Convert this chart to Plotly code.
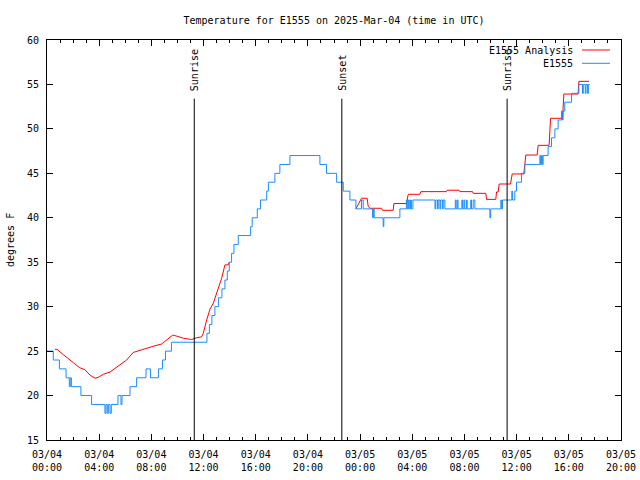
import plotly.graph_objects as go
import pandas as pd

BASE = pd.Timestamp("2025-03-04 00:00")

# Observed temperature (E1555): change points (hours after 03/04 00:00 UTC, deg F), drawn as steps
obs_hours = [0.0, 0.48, 0.95, 1.46, 1.71, 1.78, 1.87, 2.6, 3.42, 4.44, 4.52, 4.62, 4.70, 4.83, 4.93,
             5.44, 5.67, 5.75, 6.36, 6.87, 7.59, 7.93, 8.54, 8.85, 9.08, 9.54, 12.26, 12.45, 12.64,
             12.87, 13.14, 13.41, 13.64, 13.82, 13.97, 14.15, 14.33, 14.66, 15.61, 15.73, 16.12,
             16.37, 16.84, 16.97, 17.47, 17.85, 18.62, 20.92, 21.43, 22.2, 22.71, 23.22, 23.68,
             24.11, 24.24, 24.96, 25.02, 25.08, 25.77, 25.82, 27.05, 27.55, 27.62, 27.70, 27.77,
             27.86, 27.93, 28.05, 29.74, 29.8, 29.93, 29.99, 30.12, 30.18, 30.31, 30.37, 30.5,
             31.3, 31.36, 31.45, 31.51, 31.8, 31.86, 31.96, 32.02, 32.15, 32.21, 32.48, 32.54,
             32.67, 32.8, 33.95, 34.01, 34.79, 34.85,
             34.92, 35.63, 35.69, 35.86, 35.99, 36.37, 36.63, 37.78, 37.84, 37.91, 37.97, 38.03,
             38.41, 38.67, 38.93, 39.18, 39.44, 39.50, 39.56, 39.69, 40.21, 40.77, 41.05, 41.11,
             41.26, 41.32, 41.44, 41.5, 41.61]
obs_temps = [25, 24, 23, 22, 21, 22, 21, 20, 19, 18, 19, 18, 19, 18, 19,
             20, 19, 20, 21, 22, 23, 22, 23, 24, 25, 26, 27, 28, 29,
             30, 31, 32, 33, 34, 35, 36, 37, 38, 39, 40, 41,
             42, 43, 44, 45, 46, 47, 46, 45, 44, 43, 42, 41,
             42, 41, 40, 41, 40, 39, 40, 41, 42, 41, 42, 41,
             42, 41, 42, 41, 42, 41, 42, 41, 42, 41, 42, 41,
             42, 41, 42, 41, 42, 41, 42, 41, 42, 41, 42, 41,
             42, 41, 40, 41, 42, 41,
             42, 43, 42, 43, 44, 45, 46, 47, 46, 47, 46, 47,
             48, 49, 50, 51, 52, 51, 52, 53, 54, 55, 54, 55,
             54, 55, 54, 55, 55]

# Analysis (E1555 Analysis), early part (coincides with observations between the two parts)
ana_early_hours = [0.61, 0.77, 1.25, 1.63, 2.02, 2.48, 2.91, 3.3, 3.68, 3.93, 4.32, 4.83, 5.21,
                   5.72, 6.1, 6.61, 7.13, 7.64, 8.15, 8.79, 9.17, 9.63, 9.91, 10.45, 11.09,
                   11.47, 11.85, 11.98, 12.24, 12.49, 12.75, 13.0, 13.26, 13.39, 13.64, 13.89,
                   13.97]
ana_early_temps = [25.2, 25.2, 24.6, 24.1, 23.7, 23.15, 22.9, 22.3, 21.95, 22.05, 22.4, 22.65, 23.05,
                   23.5, 24.0, 24.85, 25.1, 25.35, 25.55, 25.8, 26.25, 26.8, 26.7, 26.45, 26.3,
                   26.5, 26.6, 27.0, 28.5, 29.7, 30.4, 31.5, 32.6, 33.2, 34.7, 34.7,
                   35.0]
# Analysis, late part
ana_late_hours = [23.68, 24.11, 24.54, 24.62, 24.75, 25.65, 25.71, 26.54, 26.59, 27.56, 27.69, 28.58,
                  28.66, 30.63, 30.67, 31.59, 31.65, 32.62, 32.67, 33.64, 33.69, 34.4, 34.46,
                  34.58, 34.66, 35.53, 35.66, 36.55, 36.63, 36.7, 37.57, 37.65, 38.49, 38.6,
                  39.52, 39.62, 40.71, 40.77, 41.56]
ana_late_temps = [41.0, 42.2, 42.2, 41.3, 41.07, 41.07, 40.84, 40.84, 41.6, 41.6, 42.64, 42.64,
                  42.94, 42.94, 43.1, 43.1, 42.94, 42.94, 42.75, 42.75, 42.07, 42.07, 42.9,
                  42.9, 43.8, 43.8, 44.93, 44.93, 46.0, 47.06, 47.06, 48.15, 48.15, 51.19,
                  51.19, 53.92, 53.92, 55.35, 55.35]

event_hours = [11.29, 22.6, 35.27]
event_labels = ["Sunrise", "Sunset", "Sunrise"]

tick_hours = [0, 4, 8, 12, 16, 20, 24, 28, 32, 36, 40, 44]
tick_labels = ["03/04<br>00:00", "03/04<br>04:00", "03/04<br>08:00", "03/04<br>12:00",
               "03/04<br>16:00", "03/04<br>20:00", "03/05<br>00:00", "03/05<br>04:00",
               "03/05<br>08:00", "03/05<br>12:00", "03/05<br>16:00", "03/05<br>20:00"]

series_names = ["E1555 Analysis", "E1555"]
series_colors = ["#ff0000", "#1a8cff"]


def t(h):
    return BASE + pd.Timedelta(hours=h)


ana_x = [t(h) for h in ana_early_hours] + [None] + [t(h) for h in ana_late_hours]
ana_y = ana_early_temps + [None] + ana_late_temps

FONT = "DejaVu Sans Mono"
fig = go.Figure()
fig.add_trace(go.Scatter(x=ana_x, y=ana_y, mode="lines", connectgaps=False,
                         line=dict(color=series_colors[0], width=1), name=series_names[0],
                         showlegend=False))
fig.add_trace(go.Scatter(x=[t(h) for h in obs_hours], y=obs_temps, mode="lines",
                         line=dict(color=series_colors[1], width=1, shape="hv"),
                         name=series_names[1], showlegend=False))

for h, lab in zip(event_hours, event_labels):
    fig.add_shape(type="line", xref="x", yref="y", x0=t(h), x1=t(h), y0=15, y1=53.4,
                  line=dict(color="black", width=1))
    fig.add_annotation(x=t(h), y=54.05, xref="x", yref="y", text=lab, textangle=-90,
                       showarrow=False, xanchor="center", yanchor="bottom", xshift=1,
                       font=dict(family=FONT, size=10, color="black"))

# manual legend (text then line sample, gnuplot style)
W = 574.0
for i, (nm, col) in enumerate(zip(series_names, series_colors)):
    ypx = 50 + 13.3 * i
    yp = (440 - ypx) / 400.0
    fig.add_annotation(x=(575 - 47) / W, y=yp, xref="paper", yref="paper", text=nm,
                       showarrow=False, xanchor="right", yanchor="middle",
                       font=dict(family=FONT, size=10, color="black"))
    fig.add_shape(type="line", xref="paper", yref="paper", x0=(582 - 47) / W, x1=(610 - 47) / W,
                  y0=yp, y1=yp, line=dict(color=col, width=1))

fig.add_annotation(x=(10 - 47) / W, y=0.5, xref="paper", yref="paper", text="degrees F",
                   textangle=-90, showarrow=False, xanchor="center", yanchor="middle",
                   font=dict(family=FONT, size=10, color="black"))

fig.update_layout(
    width=640, height=480,
    margin=dict(l=47, r=19, t=40, b=40, autoexpand=False),
    paper_bgcolor="white", plot_bgcolor="white",
    font=dict(family=FONT, size=10, color="black"),
    title=dict(text="Temperature for E1555 on 2025-Mar-04 (time in UTC)", x=0.5, xref="paper",
               y=1 - 20 / 480, yanchor="middle", xanchor="center",
               font=dict(family=FONT, size=10, color="black")),
)
fig.update_xaxes(
    type="date", range=[t(0), t(44)], automargin=False,
    tickvals=[t(h) for h in tick_hours], ticktext=tick_labels,
    ticks="inside", ticklen=6, tickcolor="black", tickwidth=1,
    minor=dict(ticks="inside", ticklen=3, dtick=3600000, tick0=t(0), tickcolor="black"),
    showline=True, linecolor="black", linewidth=1, mirror="allticks",
    showgrid=False, zeroline=False, ticklabelstandoff=5,
    tickfont=dict(family=FONT, size=10, color="black"),
)
fig.update_yaxes(
    range=[15, 60], dtick=5, tick0=15, automargin=False,
    ticks="inside", ticklen=6, tickcolor="black", tickwidth=1,
    showline=True, linecolor="black", linewidth=1, mirror="allticks",
    showgrid=False, zeroline=False, ticklabelstandoff=5,
    tickfont=dict(family=FONT, size=10, color="black"),
)

fig.write_html("out.html", config={"displayModeBar": False},
               post_script="document.body.style.margin='0';document.body.style.overflow='hidden';")
